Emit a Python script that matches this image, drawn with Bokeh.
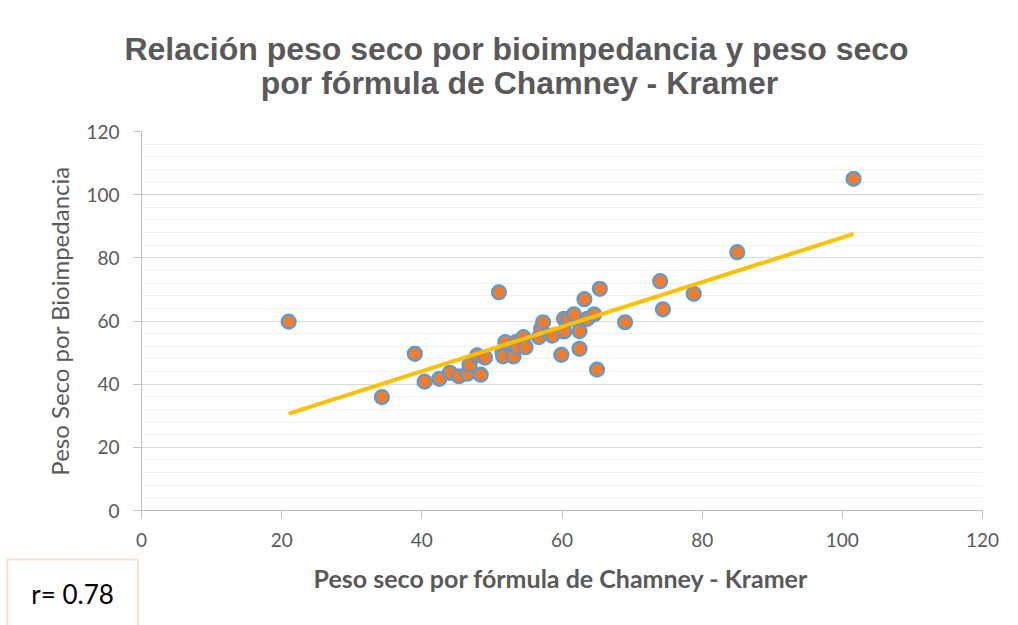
import numpy as np
from bokeh.plotting import figure
from bokeh.models import FixedTicker, Label, Range1d
from bokeh.embed import file_html
from bokeh.resources import INLINE

# Data
chamney_kramer = [21.0, 34.3, 39.0, 40.4, 42.5, 44.0, 45.3, 46.5, 46.8, 47.9, 48.4, 49.0,
                  51.0, 51.5, 51.6, 51.9, 53.1, 53.4, 53.6, 54.5, 54.8, 56.7, 57.0, 57.3,
                  58.6, 59.9, 60.3, 60.3, 60.9, 61.7, 62.5, 62.5, 63.2, 63.6, 64.6, 65.0,
                  65.4, 69.0, 74.0, 74.4, 78.8, 85.0, 101.6]
bioimpedancia = [59.8, 35.9, 49.6, 40.8, 41.7, 43.6, 42.5, 43.3, 46.1, 49.1, 43.0, 48.4,
                 69.1, 50.1, 48.8, 53.3, 48.8, 53.3, 51.7, 54.9, 51.7, 54.9, 57.5, 59.6,
                 55.4, 49.3, 60.7, 56.7, 60.4, 62.1, 56.8, 51.2, 66.9, 60.7, 62.1, 44.6,
                 70.2, 59.6, 72.6, 63.7, 68.6, 81.8, 105.0]
x_ticks = [0, 20, 40, 60, 80, 100, 120]
y_ticks = [0, 20, 40, 60, 80, 100, 120]
title_lines = ["Relación peso seco por bioimpedancia y peso seco",
               "por fórmula de Chamney - Kramer"]
x_label = "Peso seco por fórmula de Chamney - Kramer"
y_label = "Peso Seco por Bioimpedancia"
r_text = "r= 0.78"

GRAY = "#595959"

p = figure(width=1018, height=625, output_backend="svg", toolbar_location=None,
           x_range=Range1d(0, 120), y_range=Range1d(0, 120),
           min_border_left=141, min_border_right=36, min_border_top=131, min_border_bottom=115)
p.outline_line_color = None
p.background_fill_color = "white"
p.border_fill_color = "white"

# axes
p.xaxis.ticker = FixedTicker(ticks=x_ticks)
p.yaxis.ticker = FixedTicker(ticks=y_ticks, minor_ticks=list(range(0, 121, 4)))
for ax in (p.xaxis[0], p.yaxis[0]):
    ax.axis_line_color = "#BFBFBF"
    ax.axis_line_width = 1
    ax.major_tick_line_color = "#BFBFBF"
    ax.major_tick_in = 0
    ax.major_tick_out = 8
    ax.minor_tick_line_color = None
    ax.major_label_text_font = "Lato"
    ax.major_label_text_font_size = "19px"
    ax.major_label_text_color = GRAY
    ax.major_label_standoff = 14
p.yaxis.axis_label = y_label
p.yaxis.axis_label_text_color = GRAY
p.yaxis.axis_label_text_font = "Lato"
p.yaxis.axis_label_text_font_size = "24px"
p.yaxis.axis_label_text_font_style = "normal"
p.yaxis.axis_label_standoff = 9

# grids
p.xgrid.grid_line_color = None
p.ygrid.grid_line_color = "#D9D9D9"
p.ygrid.minor_grid_line_color = "#EFEFEF"
p.ygrid.grid_line_width = 1
p.ygrid.minor_grid_line_width = 1

# trendline (least squares from data)
slope, intercept = np.polyfit(chamney_kramer, bioimpedancia, 1)
tx = [min(chamney_kramer), max(chamney_kramer)]
ty = [slope * v + intercept for v in tx]

p.scatter(chamney_kramer, bioimpedancia, size=14, fill_color="#ED7D31",
          line_color="#5B9BD5", line_width=2.2)
p.line(tx, ty, line_color="#FFC000", line_width=4)

# texts placed in side panels (side-panel annotations are not clipped to the frame)
# x-axis title (slot closest to the frame in the top panel, moved down to below the axis)
p.add_layout(Label(x=419.5, y=-446, x_units="screen", y_units="screen", text=x_label,
                   text_align="center", text_baseline="middle", text_font="Lato",
                   text_font_style="bold", text_font_size="25px", text_color=GRAY), "above")
# chart title, two lines
p.add_layout(Label(x=378, y=19, x_units="screen", y_units="screen", text=title_lines[1],
                   text_align="center", text_baseline="middle", text_font="Liberation Sans",
                   text_font_style="bold", text_font_size="32px", text_color=GRAY), "above")
p.add_layout(Label(x=375, y=17, x_units="screen", y_units="screen", text=title_lines[0],
                   text_align="center", text_baseline="middle", text_font="Liberation Sans",
                   text_font_style="bold", text_font_size="32px", text_color=GRAY), "above")

# r box
p.add_layout(Label(x=-69, y=24, x_units="screen", y_units="screen", text=r_text,
                   text_align="center", text_baseline="middle", text_font="Lato",
                   text_font_size="26px", text_color="black",
                   border_line_color="#FBE0CE", border_line_width=2,
                   background_fill_color="white",
                   padding=dict(left=24, right=24, top=18, bottom=18)), "below")

open("out.html", "w").write(file_html(p, INLINE))
